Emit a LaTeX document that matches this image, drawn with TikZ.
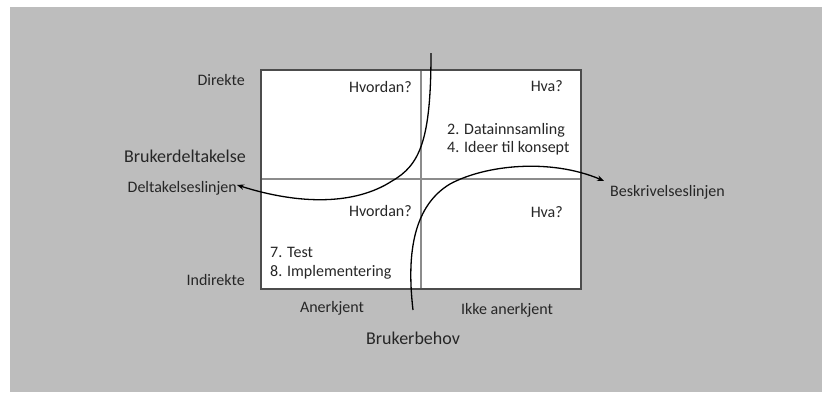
\documentclass[tikz,border=0pt]{standalone}
\usepackage{fontspec}
\setmainfont{Carlito}
\usetikzlibrary{arrows.meta}
\definecolor{bggray}{gray}{0.74}
\tikzset{
  lbl/.style={inner sep=0pt, text=black!85},
  biglbl/.style={lbl, font=\fontsize{18}{21}\selectfont},
  curve/.style={black, line width=1.3pt, -{Stealth[length=7pt,width=5.5pt]}},
  midline/.style={black!45, line width=1.5pt},
}

\begin{document}
\begin{tikzpicture}[x=1pt, y=-1pt, font=\fontsize{16}{18.5}\selectfont]
\useasboundingbox (0,0) rectangle (822,392);
\fill[white] (0,0) rectangle (822,392);
\fill[bggray] (10,7) rectangle (822,392);

\begin{scope}
\coordinate (bl) at (261,289);
\coordinate (tr) at (581,70);
\coordinate (m) at (421,179);

\fill[white] (bl) rectangle (tr);
\draw[midline] (m |- tr) -- (m |- bl);
\draw[midline] (m -| bl) -- (m -| tr);
\draw[black!70, line width=1.5pt] (bl) rectangle (tr);

% quadrants
\node[lbl, anchor=east] (hvordan1) at (412,87) {Hvordan?};
\node[lbl, anchor=east] (hva1) at (563,86) {Hva?};
\node[lbl, anchor=east] (hvordan2) at (412,211) {Hvordan?};
\node[lbl, anchor=east] (hva2) at (563,212) {Hva?};
\node[lbl, anchor=west, align=left] (steps1) at (447,139) {2. Datainnsamling\\4. Ideer til konsept};
\node[lbl, anchor=west, align=left] (steps2) at (270,263) {7. Test\\8. Implementering};

% axes
\node[lbl, anchor=east] (direkte) at (245,80) {Direkte};
\node[lbl, anchor=east] (indirekte) at (245,280) {Indirekte};
\node[biglbl, anchor=east] (deltak) at (246,156) {Brukerdeltakelse};
\node[lbl] (anerkjent) at (332,308) {Anerkjent};
\node[lbl] (ikke) at (507,310) {Ikke anerkjent};
\node[biglbl] (behov) at (413,338) {Brukerbehov};
\node[lbl, anchor=east] (dlinje) at (237,188) {Deltakelseslinjen};
\node[lbl, anchor=west] (blinje) at (610,192) {Beskrivelseslinjen};

\coordinate (ctop) at (431,53);
\coordinate (cbot) at (413,310);

\draw[curve] (ctop) .. controls (431,140) and (420,165) .. (392,181)
  .. controls (355,205) and (300,205) .. ([yshift=3pt]dlinje.east);
\draw[curve] (cbot) .. controls (406,250) and (415,205) .. (450,184)
  .. controls (485,165) and (550,158) .. ([shift={(-6pt,4pt)}]blinje.north west);
\end{scope}

\end{tikzpicture}
\end{document}
